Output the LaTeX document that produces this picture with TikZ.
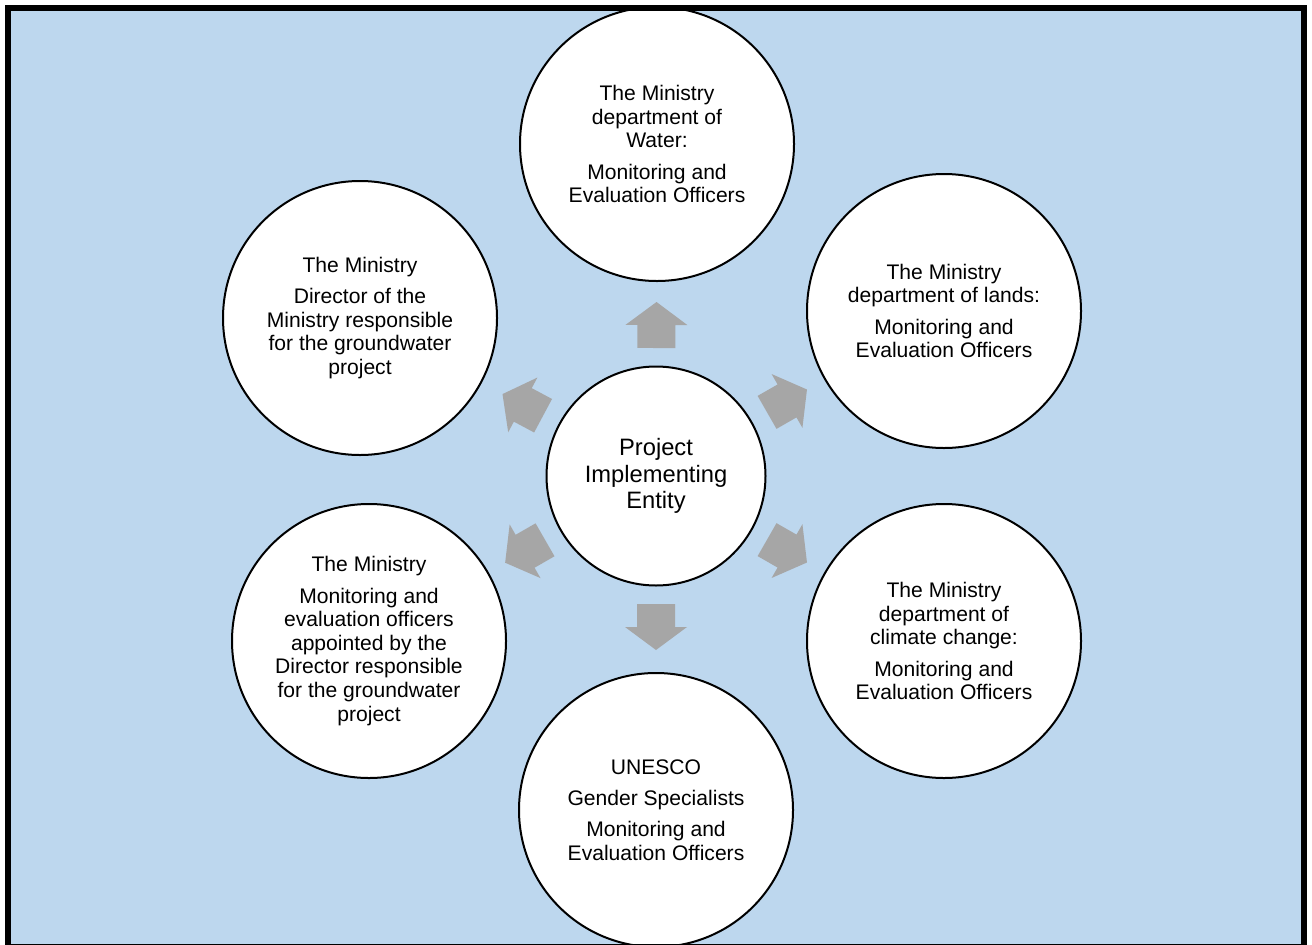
\documentclass[tikz,border=0pt]{standalone}
\usepackage{fontspec}
\setmainfont{Liberation Sans}
\usetikzlibrary{calc}
\begin{document}
\begin{tikzpicture}[x=0.2mm, y=-0.2mm]

\definecolor{bcolor}{HTML}{BDD7EE}
\definecolor{acolor}{HTML}{A6A6A6}

\tikzstyle{frame}=[line width=1.1mm, draw=black]
\tikzstyle{bubble}=[circle, draw=black, line width=0.4mm, fill=white, minimum size=54.8mm, inner sep=0pt, align=center, font=\fontsize{12}{13.4}\selectfont]
\tikzstyle{hub}=[bubble, minimum size=43.8mm, font=\fontsize{13.5}{15.2}\selectfont]
\tikzstyle{arrow}=[fill=acolor]

%\draw[help lines, step=50] (0,0) grid (1312,945);

% fat grey arrow pointing from #1 towards #2
\def\blockarrow#1#2{
\fill[arrow] let \p1=($(#2)-(#1)$), \n1={atan2(\y1,\x1)} in [shift={(#1)}, rotate=\n1]
    (128,-19) -- (151,-19) -- (151,-31) -- (174,0) -- (151,31) -- (151,19) -- (128,19) -- cycle;
}

\useasboundingbox (0,0) rectangle (1312,945);
\fill[bcolor] (8,8) rectangle (1304,947.2);

% hub and the six bubbles round it
\node[hub] (pie) at (656,476) {Project\\Implementing\\Entity};

\node[bubble] (water) at (657,144) {The Ministry\\department of\\Water:\\[4.5pt]Monitoring and\\Evaluation Officers};
\node[bubble] (lands) at (944,311) {The Ministry\\department of lands:\\[4.5pt]Monitoring and\\Evaluation Officers};
\node[bubble] (climate) at (944,641) {The Ministry\\department of\\climate change:\\[4.5pt]Monitoring and\\Evaluation Officers};
\node[bubble] (unesco) at (656,810) {UNESCO\\[4.5pt]Gender Specialists\\[4.5pt]Monitoring and\\Evaluation Officers};
\node[bubble] (officers) at (369,641) {The Ministry\\[4.5pt]Monitoring and\\evaluation officers\\appointed by the\\Director responsible\\for the groundwater\\project};
\node[bubble] (director) at (360,318) {The Ministry\\[4.5pt]Director of the\\Ministry responsible\\for the groundwater\\project};

\blockarrow{pie}{water}
\blockarrow{pie}{lands}
\blockarrow{pie}{climate}
\blockarrow{pie}{unesco}
\blockarrow{pie}{officers}
\blockarrow{pie}{director}

\draw[frame] (8,8) rectangle (1304,947.2);

\end{tikzpicture}
\end{document}
